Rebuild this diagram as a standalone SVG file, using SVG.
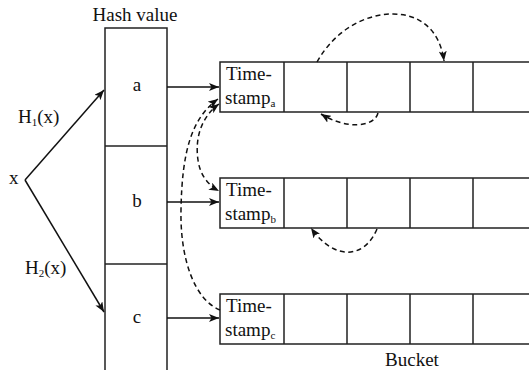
<svg xmlns="http://www.w3.org/2000/svg" width="529" height="370" viewBox="0 0 529 370">
  <style>
    .sub { font-size: 11px; }
    .line { fill: none; stroke: #222; stroke-width: 1.5; }
    .solid { fill: none; stroke: #111; stroke-width: 1.5; }
    .dash { fill: none; stroke: #111; stroke-width: 1.5; stroke-dasharray: 5 3.5; }
  </style>
  <defs>
    <marker id="arrow" viewBox="0 0 10 8" refX="10" refY="4" markerWidth="10" markerHeight="8" markerUnits="userSpaceOnUse" orient="auto-start-reverse">
      <path d="M0,0 L10,4 L0,8 L2.5,4 Z" fill="#111"/>
    </marker>
  </defs>

  <rect width="529" height="370" fill="#fff"/>

  <g font-family="Liberation Serif" font-size="19" fill="#111">
    <!-- input key -->
    <g id="node-x">
      <text x="9" y="184">x</text>
    </g>

    <!-- hash value column -->
    <g id="node-hash">
      <text x="135" y="21" text-anchor="middle">Hash value</text>
      <path class="line" d="M105,370 V28 H167 V370"/>
      <line class="line" x1="105" y1="146" x2="167" y2="146"/>
      <line class="line" x1="105" y1="264" x2="167" y2="264"/>
      <text x="137" y="91" text-anchor="middle">a</text>
      <text x="137" y="207" text-anchor="middle">b</text>
      <text x="137" y="323" text-anchor="middle">c</text>
    </g>

    <!-- bucket rows -->
    <g id="node-bucket-a">
      <path class="line" d="M529,62 H220 V112 H529"/>
      <path class="line" d="M284,62 V112 M347,62 V112 M410,62 V112 M473,62 V112"/>
      <text x="226" y="80">Time-</text>
      <text x="225" y="104">stamp<tspan class="sub" dy="3">a</tspan></text>
    </g>
    <g id="node-bucket-b">
      <path class="line" d="M529,178 H220 V228 H529"/>
      <path class="line" d="M284,178 V228 M347,178 V228 M410,178 V228 M473,178 V228"/>
      <text x="226" y="196">Time-</text>
      <text x="225" y="220">stamp<tspan class="sub" dy="3">b</tspan></text>
    </g>
    <g id="node-bucket-c">
      <path class="line" d="M529,294 H220 V344 H529"/>
      <path class="line" d="M284,294 V344 M347,294 V344 M410,294 V344 M473,294 V344"/>
      <text x="226" y="312">Time-</text>
      <text x="225" y="336">stamp<tspan class="sub" dy="3">c</tspan></text>
    </g>
    <g id="label-bucket">
      <text x="412" y="366" text-anchor="middle">Bucket</text>
    </g>

    <!-- connectors -->
    <g id="connectors">
      <path class="solid" d="M25,180 L104,90" marker-end="url(#arrow)"/>
      <path class="solid" d="M25,180 L104,312" marker-end="url(#arrow)"/>
      <text x="18" y="123">H<tspan class="sub" dy="3">1</tspan><tspan dy="-3">(x)</tspan></text>
      <text x="25" y="274">H<tspan class="sub" dy="3">2</tspan><tspan dy="-3">(x)</tspan></text>

      <path class="solid" d="M167,87 H219" marker-end="url(#arrow)"/>
      <path class="solid" d="M167,202 H219" marker-end="url(#arrow)"/>
      <path class="solid" d="M167,318 H219" marker-end="url(#arrow)"/>

      <path class="dash" d="M317,62 C335,30 365,14 393,14 C420,14 440,30 444,61" marker-end="url(#arrow)"/>
      <path class="dash" d="M378,113 C374,128 345,129 321,114" marker-end="url(#arrow)"/>
      <path class="dash" d="M377,229 C365,258 335,262 311,228" marker-end="url(#arrow)"/>
      <path class="dash" d="M220,310 C195,300 180,260 181,210 C182,150 192,118 218,99" marker-end="url(#arrow)"/>
      <path class="dash" d="M219,104 C200,118 195,140 198,160 C200,175 208,185 219,191" marker-start="url(#arrow)" marker-end="url(#arrow)"/>
    </g>
  </g>
</svg>
